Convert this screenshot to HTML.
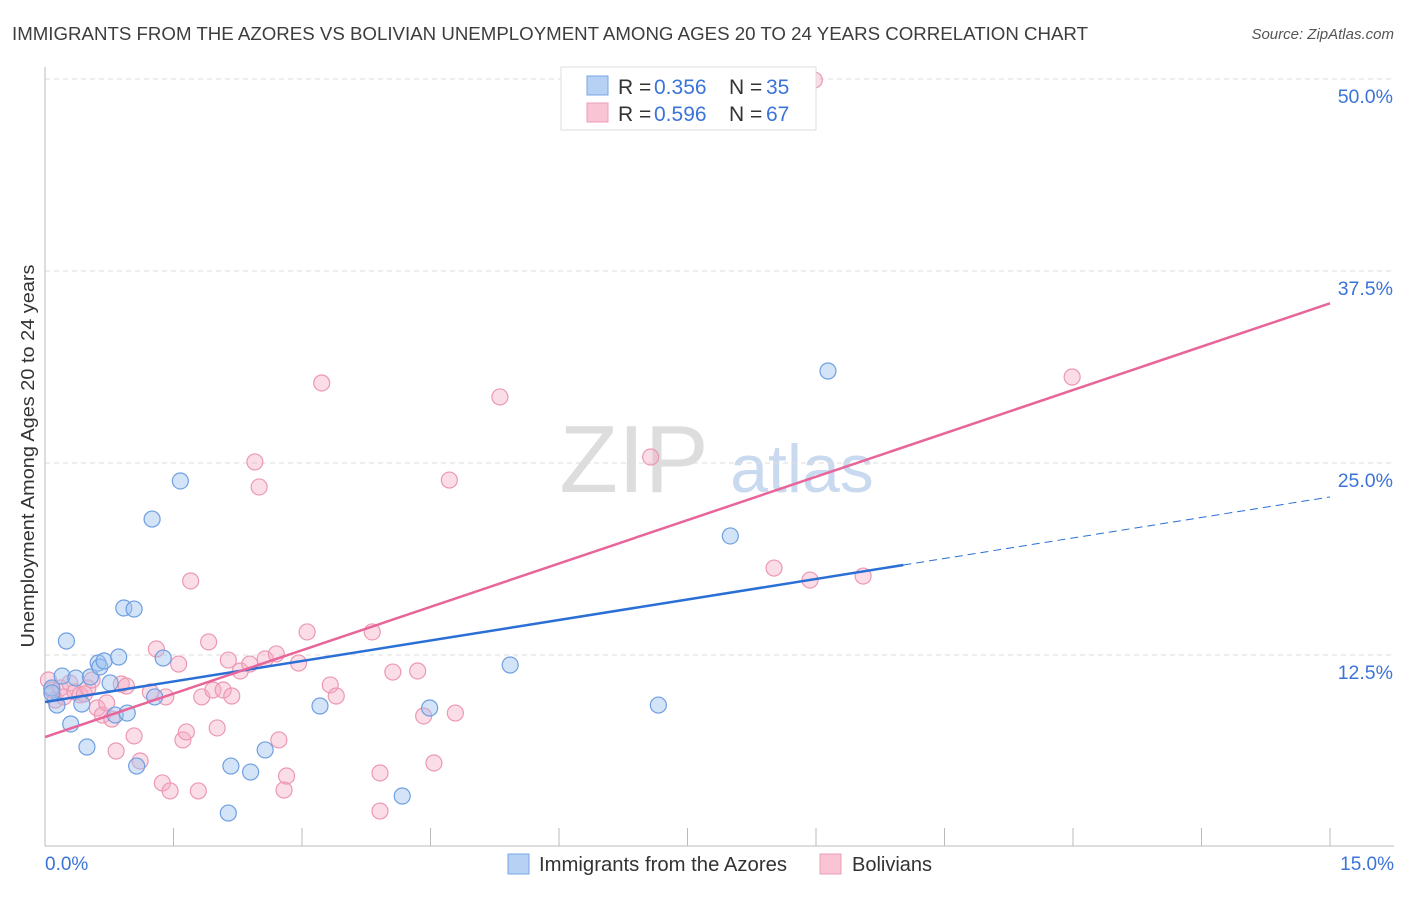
<!DOCTYPE html>
<html><head><meta charset="utf-8"><style>
body{margin:0;background:#fff;font-family:"Liberation Sans",sans-serif;}
svg text{font-family:"Liberation Sans",sans-serif;}
</style></head><body>
<svg width="1406" height="892" xmlns="http://www.w3.org/2000/svg">
<text x="12" y="40" font-size="18.5" fill="#3d3d3d" textLength="1076" lengthAdjust="spacingAndGlyphs">IMMIGRANTS FROM THE AZORES VS BOLIVIAN UNEMPLOYMENT AMONG AGES 20 TO 24 YEARS CORRELATION CHART</text>
<text x="1394" y="39" font-size="15" fill="#555" text-anchor="end" font-style="italic">Source: ZipAtlas.com</text>
<text x="634" y="492" font-size="96" fill="#ddd" text-anchor="middle" font-family="Liberation Serif">ZIP</text>
<text x="802" y="492" font-size="68" fill="#c9daf0" text-anchor="middle">atlas</text>
<g id="grid"></g>
<g id="axes"></g>
<g id="pts"></g>
<g id="lines"></g>
<text transform="translate(34,456) rotate(-90)" font-size="18.5" fill="#333" text-anchor="middle" textLength="383" lengthAdjust="spacingAndGlyphs">Unemployment Among Ages 20 to 24 years</text>
<text x="45" y="870" font-size="19" fill="#3b74d8">0.0%</text>
<text x="1394" y="870" font-size="19" fill="#3b74d8" text-anchor="end">15.0%</text>
<g>
<rect x="561" y="67" width="255" height="63" fill="#fff" stroke="#ddd"/>
<rect x="587" y="76" width="21" height="19" fill="#b7d1f4" stroke="#7aa5e6"/>
<rect x="587" y="103" width="21" height="19" fill="#f9c5d4" stroke="#ee9cb5"/>
<text y="94" font-size="21" fill="#333"><tspan x="618">R =</tspan><tspan x="654" fill="#3b74d8">0.356</tspan><tspan x="729">N =</tspan><tspan x="766" fill="#3b74d8">35</tspan></text>
<text y="121" font-size="21" fill="#333"><tspan x="618">R =</tspan><tspan x="654" fill="#3b74d8">0.596</tspan><tspan x="729">N =</tspan><tspan x="766" fill="#3b74d8">67</tspan></text>
</g>
<g>
<rect x="508" y="854" width="21" height="20" fill="#b7d1f4" stroke="#7aa5e6"/>
<text x="539" y="871" font-size="20" fill="#333" textLength="248" lengthAdjust="spacingAndGlyphs">Immigrants from the Azores</text>
<rect x="820" y="854" width="21" height="20" fill="#f9c5d4" stroke="#ee9cb5"/>
<text x="852" y="871" font-size="20" fill="#333">Bolivians</text>
</g>
</svg>
<script>
const yTicks=[12.5,25,37.5,50];
const yTickLabels=["12.5%","25.0%","37.5%","50.0%"];
const xTicks=[0,1.5,3,4.5,6,7.5,9,10.5,12,13.5,15];
const azoresX=[0.08,0.14,0.20,0.25,0.30,0.36,0.43,0.49,0.53,0.62,0.64,0.69,0.76,0.82,0.86,0.92,0.96,1.04,1.07,1.25,1.28,1.38,1.58,2.14,2.17,2.40,2.57,3.21,4.17,4.49,5.43,7.16,8.0,9.14,0.08];
const azoresY=[10.35,9.24,11.13,13.41,8.01,11.0,9.31,6.51,11.07,11.98,11.72,12.11,10.68,8.59,12.37,15.56,8.72,15.49,5.27,21.35,9.77,12.30,23.83,2.21,5.27,4.88,6.32,9.18,3.32,9.05,11.85,9.24,20.25,30.99,10.03];
const bolX=[0.04,0.08,0.12,0.18,0.22,0.29,0.35,0.41,0.46,0.50,0.55,0.61,0.67,0.72,0.78,0.83,0.89,0.95,1.04,1.11,1.23,1.30,1.37,1.41,1.46,1.56,1.61,1.65,1.70,1.79,1.83,1.91,1.96,2.01,2.08,2.14,2.18,2.28,2.39,2.45,2.50,2.57,2.70,2.73,2.79,2.82,2.96,3.06,3.23,3.33,3.40,3.82,3.91,3.91,4.06,4.35,4.42,4.54,4.72,4.79,5.31,7.07,8.51,8.93,8.98,9.55,11.99];
const bolY=[10.87,10.22,9.57,10.35,9.77,10.68,10.09,9.90,9.96,10.35,10.87,9.05,8.59,9.38,8.33,6.25,10.61,10.48,7.23,5.60,10.09,12.89,4.17,9.77,3.65,11.91,6.97,7.49,17.32,3.65,9.77,13.35,10.22,7.75,10.22,12.17,9.83,11.46,11.91,25.07,23.44,12.24,12.57,6.97,3.71,4.62,11.98,14.0,30.21,10.55,9.83,14.0,4.82,2.34,11.39,11.46,8.53,5.47,23.89,8.72,29.30,25.39,18.16,17.38,49.93,17.64,30.60];
const blueLine=[9.44,22.79], blueSolidEnd=10.02;
const pinkLine=[7.16,35.4];
const X=v=>45+v/15*1285, Y=v=>847-v*15.36;
const NS="http://www.w3.org/2000/svg";
function mk(t,a,p){const e=document.createElementNS(NS,t);for(const k in a)e.setAttribute(k,a[k]);p.appendChild(e);return e;}
const grid=document.getElementById('grid');
yTicks.forEach((v,i)=>{
 const l=mk('line',{x1:45,x2:1394,y1:Y(v),y2:Y(v),stroke:'#ddd','stroke-dasharray':'5,4'},grid);
 
 
 const t=mk('text',{x:1393,y:Y(v)+24,'font-size':19.5,fill:'#3b74d8','text-anchor':'end'},grid);
 t.textContent=yTickLabels[i];
 
 
});
const ax=document.getElementById('axes');
const la=mk('line',{x1:45,x2:45,y1:67,y2:846,stroke:'#bbb'},ax);


const lb=mk('line',{x1:45,x2:1394,y1:846,y2:846,stroke:'#bbb'},ax);


xTicks.forEach(v=>{
 const t=mk('line',{x1:X(v),x2:X(v),y1:828,y2:846,stroke:'#bbb'},ax);
 
 
});
const pts=document.getElementById('pts');
bolX.forEach((x,i)=>{
 const c=mk('circle',{cx:X(x),cy:Y(bolY[i]),r:8,fill:'rgba(246,170,195,0.4)',stroke:'#ec98b3','stroke-width':1.2},pts);
 
 
});
azoresX.forEach((x,i)=>{
 const c=mk('circle',{cx:X(x),cy:Y(azoresY[i]),r:8,fill:'rgba(160,195,240,0.45)',stroke:'#6f9fe0','stroke-width':1.2},pts);
 
 
});
const ln=document.getElementById('lines');
const by=x=>blueLine[0]+(blueLine[1]-blueLine[0])*x/15;
const b1=mk('line',{x1:X(0),y1:Y(by(0)),x2:X(blueSolidEnd),y2:Y(by(blueSolidEnd)),stroke:'#2a6fd6','stroke-width':2.5},ln);


const b2=mk('line',{x1:X(blueSolidEnd),y1:Y(by(blueSolidEnd)),x2:X(15),y2:Y(by(15)),stroke:'#2a6fd6','stroke-width':1,'stroke-dasharray':'8,5'},ln);


const p1=mk('line',{x1:X(0),y1:Y(pinkLine[0]),x2:X(15),y2:Y(pinkLine[1]),stroke:'#e8659a','stroke-width':2.5},ln);


</script>
</body></html>
